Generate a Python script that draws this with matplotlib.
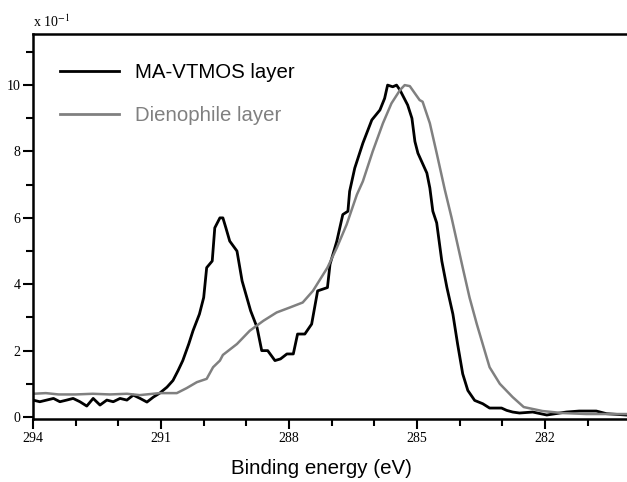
import matplotlib
matplotlib.use("Agg")
from matplotlib import pyplot as plt
from matplotlib.ticker import MultipleLocator

plt.rcParams['mathtext.fontset'] = 'stix'

# MA-VTMOS layer (black)
ma_energy = [294.0, 293.84, 293.68, 293.52, 293.37, 293.21, 293.06, 292.9, 292.74, 292.59,
             292.43, 292.27, 292.12, 291.96, 291.8, 291.65, 291.49, 291.33, 291.18, 291.03,
             290.86, 290.72, 290.6, 290.49, 290.35, 290.25, 290.1, 290.0, 289.93, 289.8,
             289.74, 289.62, 289.55, 289.48, 289.39, 289.22, 289.1, 288.9, 288.75, 288.64,
             288.5, 288.33, 288.2, 288.05, 287.9, 287.8, 287.63, 287.47, 287.33, 287.1,
             287.04, 286.88, 286.74, 286.62, 286.58, 286.46, 286.27, 286.06, 285.87, 285.76,
             285.69, 285.57, 285.48, 285.4, 285.22, 285.12, 285.05, 284.98, 284.77, 284.7,
             284.63, 284.54, 284.42, 284.3, 284.16, 284.05, 283.93, 283.81, 283.65, 283.46,
             283.3, 283.02, 282.9, 282.76, 282.6, 282.29, 281.96, 281.5, 281.2, 280.8,
             280.56, 280.1]
ma_counts = [0.51, 0.46, 0.51, 0.56, 0.46, 0.51, 0.56, 0.46, 0.33, 0.56,
             0.36, 0.51, 0.46, 0.56, 0.51, 0.66, 0.56, 0.45, 0.6, 0.72,
             0.9, 1.1, 1.4, 1.7, 2.2, 2.6, 3.1, 3.6, 4.5, 4.7,
             5.7, 6.0, 6.0, 5.7, 5.3, 5.0, 4.1, 3.2, 2.7, 2.0,
             2.0, 1.7, 1.75, 1.9, 1.9, 2.5, 2.5, 2.8, 3.8, 3.9,
             4.6, 5.3, 6.1, 6.2, 6.8, 7.5, 8.25, 8.95, 9.25, 9.6,
             10.0, 9.95, 10.0, 9.85, 9.4, 9.0, 8.3, 7.95, 7.35, 6.9,
             6.2, 5.85, 4.7, 3.9, 3.1, 2.2, 1.3, 0.8, 0.5, 0.4,
             0.27, 0.27, 0.2, 0.15, 0.12, 0.15, 0.06, 0.15, 0.18, 0.18,
             0.1, 0.06]

# Dienophile layer (grey)
dien_energy = [294.0, 293.7, 293.4, 293.0, 292.6, 292.2, 291.8, 291.5, 291.03, 290.63,
               290.4, 290.16, 289.93, 289.78, 289.62, 289.55, 289.22, 288.92, 288.6, 288.29,
               287.98, 287.68, 287.44, 287.1, 286.88, 286.65, 286.41, 286.27, 286.04, 285.8,
               285.6, 285.4, 285.29, 285.17, 285.05, 284.94, 284.87, 284.7, 284.54, 284.35,
               284.19, 283.93, 283.77, 283.6, 283.37, 283.3, 283.06, 282.76, 282.5, 282.06,
               281.6, 281.03, 280.1]
dien_counts = [0.7, 0.72, 0.68, 0.68, 0.7, 0.68, 0.7, 0.66, 0.72, 0.72,
               0.87, 1.05, 1.15, 1.5, 1.7, 1.87, 2.2, 2.6, 2.9, 3.15,
               3.3, 3.45, 3.8, 4.5, 5.1, 5.8, 6.7, 7.1, 8.0, 8.85,
               9.45, 9.85, 10.0, 9.97, 9.75, 9.55, 9.5, 8.85, 7.95, 6.85,
               6.0, 4.5, 3.6, 2.8, 1.8, 1.5, 1.0, 0.6, 0.3, 0.18,
               0.12, 0.09, 0.09]

x_major = [294, 291, 288, 285, 282]
y_major = [0, 2, 4, 6, 8, 10]

fig = plt.figure(figsize=(6.27, 4.82), dpi=100)
ax = fig.add_axes([33/627, 63/482, 594/627, 385/482])

ax.plot(ma_energy, ma_counts, color='black', lw=2, label='MA-VTMOS layer')
ax.plot(dien_energy, dien_counts, color='#808080', lw=1.8, label='Dienophile layer')

ax.set_xlim(294, 280.08)
ax.set_ylim(-0.06, 11.54)

ax.set_xticks(x_major)
ax.xaxis.set_minor_locator(MultipleLocator(1))
ax.set_yticks(y_major)
ax.yaxis.set_minor_locator(MultipleLocator(1))
ax.tick_params(which='major', length=7, width=1.5, direction='out', labelsize=10,
               pad=2)
ax.tick_params(which='minor', length=5, width=1.5, direction='out')
for lab in ax.get_xticklabels() + ax.get_yticklabels():
    lab.set_fontfamily('Liberation Serif')

ax.spines['right'].set_visible(False)
for s in ['left', 'bottom', 'top']:
    ax.spines[s].set_linewidth(1.8)

ax.set_xlabel('Binding energy (eV)', fontsize=14.8, family='Liberation Sans', labelpad=12)
ax.xaxis.set_label_coords(0.485, -0.105)
fig.text(33/627, 1 - 30/482, r'x 10$^{-1}$', fontsize=10, family='Liberation Serif',
         ha='left', va='bottom')

leg = ax.legend(loc='upper left', bbox_to_anchor=(0.045, 0.925), frameon=False,
                prop={'family': 'Liberation Sans', 'size': 14.7},
                handlelength=2.9, handletextpad=0.8, labelspacing=1.2,
                borderpad=0, borderaxespad=0)
for line in leg.get_lines():
    line.set_linewidth(2)
leg.get_texts()[1].set_color('#808080')

fig.savefig('out.png', dpi=100)
